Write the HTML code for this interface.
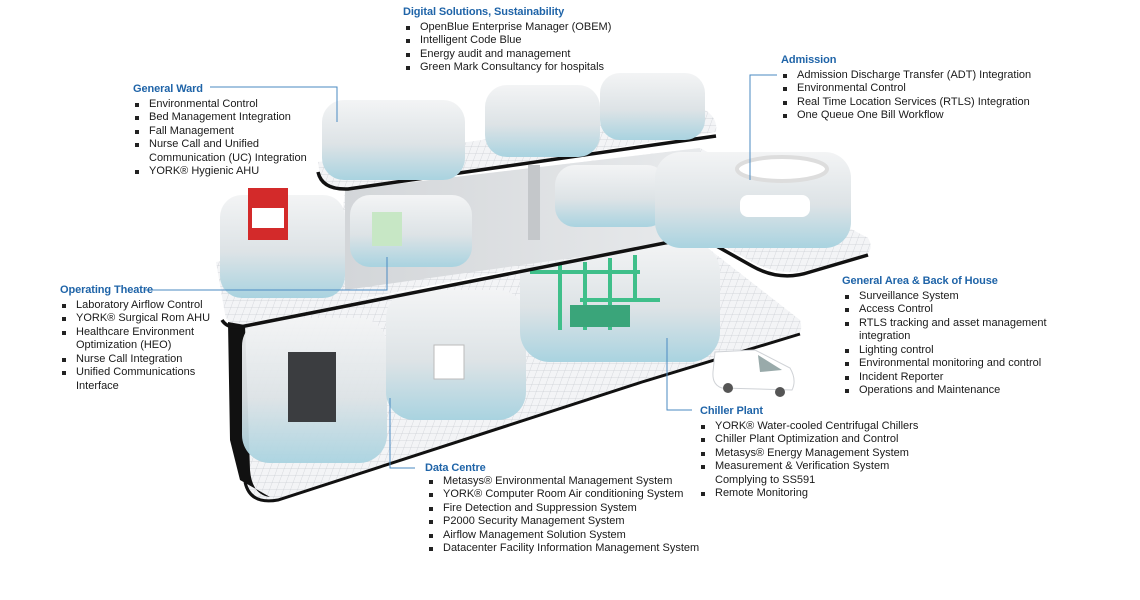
<!DOCTYPE html>
<html><head><meta charset="utf-8">
<style>
html,body{margin:0;padding:0;background:#fff;}
#c{position:relative;width:1140px;height:600px;overflow:hidden;font-family:"Liberation Sans",Arial,sans-serif;}
svg{position:absolute;left:0;top:0;}
.b{position:absolute;font-size:11px;line-height:13.5px;color:#1a1a1a;white-space:nowrap;}
.b h{display:block;color:#1f64a8;font-weight:bold;font-size:11px;letter-spacing:-0.1px;margin-left:-16px;margin-bottom:1px;margin-top:1px;}
.b div{position:relative;}
.b div.i::before{content:"";position:absolute;left:-14px;top:5px;width:4px;height:4px;background:#222;}
</style></head><body><div id="c">
<svg width="1140" height="600" viewBox="0 0 1140 600">
<defs>
<pattern id="t" width="7" height="7" patternUnits="userSpaceOnUse" patternTransform="skewX(-20)">
<rect width="7" height="7" fill="#f3f4f6"/><path d="M7 0V7H0" fill="none" stroke="#c9ccd2" stroke-width="0.7"/></pattern>
<linearGradient id="rm" x1="0" y1="0" x2="0" y2="1">
<stop offset="0" stop-color="#f3f4f5"/><stop offset="0.55" stop-color="#dde3e6"/><stop offset="1" stop-color="#a9d3e0"/></linearGradient>
<linearGradient id="wl" x1="0" y1="0" x2="1" y2="0">
<stop offset="0" stop-color="#d3d6d9"/><stop offset="1" stop-color="#e8eaec"/></linearGradient>
</defs>
<!-- bottom floor -->
<path d="M228,322 L700,242 L800,320 Q805,335 790,338 L642,382 L275,500 Q250,505 245,480 L230,340 Z" fill="url(#t)"/>
<path d="M228,322 L245,325 L250,470 Q252,495 270,497 L240,480 L230,440 Z" fill="#111"/>
<path d="M245,482 Q250,505 278,500 L642,382 L800,334" fill="none" stroke="#111" stroke-width="3"/>
<!-- bottom rooms -->
<rect x="242" y="318" width="145" height="145" rx="28" fill="url(#rm)" opacity="0.95"/>
<rect x="288" y="352" width="48" height="70" fill="#3b3d40"/>
<rect x="386" y="290" width="140" height="130" rx="28" fill="url(#rm)"/>
<rect x="434" y="345" width="30" height="34" fill="#fff" stroke="#bbb"/>
<rect x="520" y="242" width="200" height="120" rx="30" fill="url(#rm)"/>
<path d="M530,272 H640 M560,265 V330 M585,262 V330 M610,258 V330 M635,255 V300 M580,300 H660" stroke="#3fbf8a" stroke-width="4" fill="none"/>
<rect x="570" y="305" width="60" height="22" fill="#3aa57a"/>
<!-- van -->
<path d="M715,352 L755,350 L790,368 Q797,380 792,390 L722,388 Q712,385 713,372 Z" fill="#fff" stroke="#cfd2d6"/>
<circle cx="728" cy="388" r="5" fill="#555"/><circle cx="780" cy="392" r="5" fill="#555"/>
<path d="M758,355 L782,370 L760,372 Z" fill="#9aa"/>
<!-- middle floor -->
<path d="M216,262 L340,238 L345,190 L700,148 L868,238 Q876,252 860,258 L800,272 Q770,274 745,258 L712,240 Q695,234 680,238 L240,322 Q227,325 225,314 Z" fill="url(#t)"/>
<path d="M345,190 L700,148 L700,240 L345,290 Z" fill="url(#wl)"/>
<path d="M222,320 Q228,330 245,326 L680,240 Q700,236 720,248 L752,266 Q780,282 810,272 L868,255" fill="none" stroke="#111" stroke-width="3.5"/>
<rect x="220" y="195" width="125" height="103" rx="22" fill="url(#rm)"/>
<rect x="248" y="188" width="40" height="52" fill="#d32a2a"/><rect x="252" y="208" width="32" height="20" fill="#fff"/>
<rect x="350" y="195" width="122" height="72" rx="20" fill="url(#rm)"/>
<rect x="372" y="212" width="30" height="34" fill="#c7e7c5"/>
<rect x="528" y="165" width="12" height="75" fill="#c4c7ca"/>
<rect x="555" y="165" width="112" height="62" rx="20" fill="url(#rm)"/>
<rect x="655" y="152" width="196" height="96" rx="26" fill="url(#rm)"/>
<ellipse cx="782" cy="169" rx="45" ry="12" fill="#fff" stroke="#ddd" stroke-width="4"/>
<rect x="740" y="195" width="70" height="22" rx="8" fill="#fff"/>
<!-- top floor -->
<path d="M318,162 L705,110 Q718,118 716,132 L360,188 Q328,192 320,176 Z" fill="url(#t)"/>
<path d="M318,172 Q322,190 348,189 L716,136" fill="none" stroke="#111" stroke-width="3.5"/>
<rect x="322" y="100" width="143" height="80" rx="22" fill="url(#rm)"/>
<rect x="485" y="85" width="115" height="72" rx="22" fill="url(#rm)"/>
<rect x="600" y="73" width="105" height="67" rx="20" fill="url(#rm)"/>
<!-- leader lines -->
<g stroke="#4a8ac2" stroke-width="1" fill="none">
<path d="M210,87 H337 V122"/>
<path d="M777,75 H750 V180"/>
<path d="M145,290 H387 V257"/>
<path d="M692,410 H667 V338"/>
<path d="M415,468 H390 V398"/>
</g>
</svg>

<div class="b" style="left:420px;top:5px"><h style="margin-left:-17px">Digital Solutions, Sustainability</h>
<div class="i">OpenBlue Enterprise Manager (OBEM)</div><div class="i">Intelligent Code Blue</div><div class="i">Energy audit and management</div><div class="i">Green Mark Consultancy for hospitals</div></div>

<div class="b" style="left:149px;top:82px"><h>General Ward</h>
<div class="i">Environmental Control</div><div class="i">Bed Management Integration</div><div class="i">Fall Management</div><div class="i">Nurse Call and Unified</div><div>Communication (UC) Integration</div><div class="i">YORK® Hygienic AHU</div></div>

<div class="b" style="left:797px;top:53px"><h>Admission</h>
<div class="i">Admission Discharge Transfer (ADT) Integration</div><div class="i">Environmental Control</div><div class="i">Real Time Location Services (RTLS) Integration</div><div class="i">One Queue One Bill Workflow</div></div>

<div class="b" style="left:76px;top:283px"><h>Operating Theatre</h>
<div class="i">Laboratory Airflow Control</div><div class="i">YORK® Surgical Rom AHU</div><div class="i">Healthcare Environment</div><div>Optimization (HEO)</div><div class="i">Nurse Call Integration</div><div class="i">Unified Communications</div><div>Interface</div></div>

<div class="b" style="left:859px;top:274px"><h style="margin-left:-17px">General Area &amp; Back of House</h>
<div class="i">Surveillance System</div><div class="i">Access Control</div><div class="i">RTLS tracking and asset management</div><div>integration</div><div class="i">Lighting control</div><div class="i">Environmental monitoring and control</div><div class="i">Incident Reporter</div><div class="i">Operations and Maintenance</div></div>

<div class="b" style="left:715px;top:404px"><h style="margin-left:-15px">Chiller Plant</h>
<div class="i">YORK® Water-cooled Centrifugal Chillers</div><div class="i">Chiller Plant Optimization and Control</div><div class="i">Metasys® Energy Management System</div><div class="i">Measurement &amp; Verification System</div><div>Complying to SS591</div><div class="i">Remote Monitoring</div></div>

<div class="b" style="left:443px;top:461px"><h style="margin-left:-18px;margin-bottom:-1px">Data Centre</h>
<div class="i">Metasys® Environmental Management System</div><div class="i">YORK® Computer Room Air conditioning System</div><div class="i">Fire Detection and Suppression System</div><div class="i">P2000 Security Management System</div><div class="i">Airflow Management Solution System</div><div class="i">Datacenter Facility Information Management System</div></div>
</div></body></html>
